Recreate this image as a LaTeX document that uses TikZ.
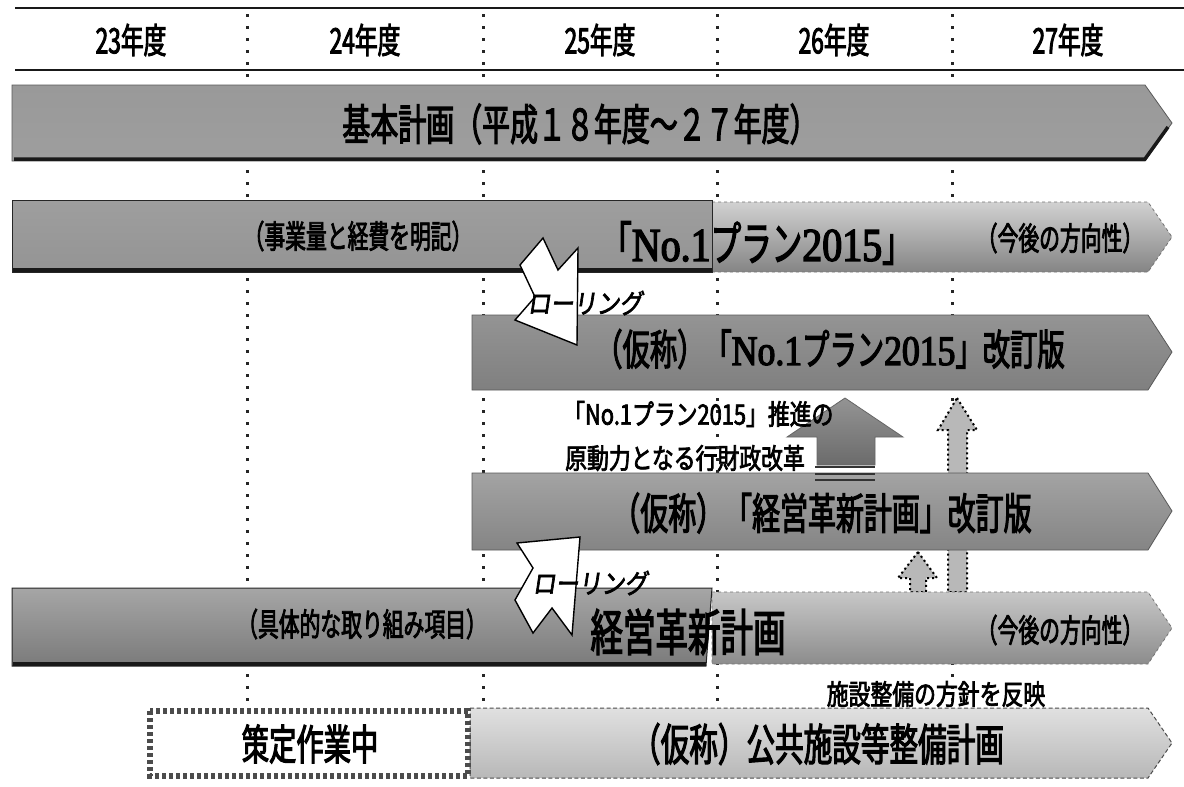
\documentclass[tikz,border=0pt]{standalone}
\usepackage{fontspec}
\newfontfamily\jp{Noto Sans CJK JP}[FakeStretch=0.65,FakeBold=2.5]
\newfontfamily\jpn{Noto Sans CJK JP}[FakeStretch=0.78,FakeBold=2.5]
\newfontfamily\jpc{Noto Sans CJK JP}[FakeStretch=0.65,FakeBold=2.5]
\newfontfamily\jps{Noto Sans CJK JP}[FakeStretch=0.85,FakeSlant=0.15,FakeBold=2.5]
\newfontfamily\ser{Liberation Serif}[FakeStretch=0.85,FakeBold=3]
\newcommand{\fsz}[1]{\fontsize{#1}{#1}\selectfont}
\tikzset{
  rule/.style={line width=2.8pt, black!90},
  vdots/.style={line width=3pt, black!85, dash pattern=on 3pt off 9pt},
  lbl/.style={inner sep=0pt, text=black},
  edge/.style={draw=black!65, line width=0.8pt},
  shadow/.style={draw=black!90, line width=3.5pt},
  rollarrow/.style={fill=white, draw=black, line width=1.4pt, line join=miter},
  dotarrow/.style={fill=black!28, draw=black, line width=2pt, dash pattern=on 2pt off 3pt},
}
\begin{document}
\begin{tikzpicture}[x=1pt,y=-1pt]
\useasboundingbox (0,0) rectangle (1184,787);
\fill[white] (0,0) rectangle (1184,787);

% vertical dotted year dividers
\foreach \x in {247,483,717,952} \draw[vdots] (\x,14) -- (\x,706);

% header
\draw[rule] (15,8) -- (1184,8);
\draw[rule] (15,70) -- (1184,70);
\node[lbl, font=\jp\fsz{35}] (y23) at (131,40) {23年度};
\node[lbl, font=\jp\fsz{35}] (y24) at (365,40) {24年度};
\node[lbl, font=\jp\fsz{35}] (y25) at (600,40) {25年度};
\node[lbl, font=\jp\fsz{35}] (y26) at (834,40) {26年度};
\node[lbl, font=\jp\fsz{35}] (y27) at (1068,40) {27年度};

% bar 1 : basic plan
\path[edge, top color=black!40, middle color=black!28, bottom color=black!38]
  (12,85) -- (1145,85) -- (1172,123) -- (1145,161) -- (12,161) -- cycle;
\draw[shadow] (14,159) -- (1145,159) -- (1168,127);
\node[lbl, font=\jp\fsz{43}] (kihon) at (580,124) {基本計画（平成１８年度～２７年度）};

% bar 2 : No.1 plan
\path[edge, draw=black!55, dashed, top color=black!18, bottom color=black!48]
  (712,202) -- (1148,202) -- (1172,237) -- (1148,272) -- (712,272) -- cycle;
\path[draw=black!85, line width=1pt, top color=black!38, middle color=black!70, bottom color=black!42]
  (12,200) rectangle (712,272);
\draw[shadow] (13,270) -- (712,270);
\node[lbl, font=\jp\fsz{32}] (jigyo) at (358,236) {（事業量と経費を明記）};
\node[lbl, font=\jp\fsz{32}] (kongo1) at (1060,238) {（今後の方向性）};
\node[lbl] (no1plan) at (757,243) {\fsz{47}{\jp 「}{\ser No.1}{\jp プラン}{\ser 2015}{\jp 」}};

% bar 3 : revised No.1 plan
\path[edge, top color=black!42, bottom color=black!50]
  (472,315) -- (1148,315) -- (1172,352) -- (1148,390) -- (472,390) -- cycle;
\node[lbl] (kaitei1) at (830,349) {\fsz{42}{\jp （仮称）「}{\ser No.1}{\jp プラン}{\ser 2015}{\jp 」改訂版}};

% rolling arrow 1
\path[rollarrow] (543,238) -- (558,270) -- (578,248) -- (577,345) -- (515,320) -- (535,297) -- (520,265) -- cycle;
\node[lbl, font=\jps\fsz{27}] (roll1) at (585,303) {ローリング};

% long dotted arrow (behind bar 4)
\path[dotarrow] (957,398) -- (977,430) -- (967,430) -- (967,592) -- (948,592) -- (948,430) -- (938,430) -- cycle;

% bar 4 : revised management innovation plan
\path[edge, top color=black!36, bottom color=black!48]
  (472,473) -- (1148,473) -- (1172,511) -- (1148,550) -- (472,550) -- cycle;
\node[lbl, font=\jp\fsz{43}] (kaitei2) at (822,513) {（仮称）「経営革新計画」改訂版};

% big up arrow
\path[draw=black!60, line width=0.8pt, top color=black!42, bottom color=black!58]
  (845,398) -- (903,437) -- (875,437) -- (875,465) -- (817,465) -- (817,437) -- (787,437) -- cycle;
\foreach \yy in {467,474,480} \draw[black!80, line width=1.5pt] (815,\yy) -- (875,\yy);

\node[lbl, font=\jpn\fsz{28}, anchor=west] (suishin) at (563,414) {「No.1プラン2015」推進の};
\node[lbl, font=\jpn\fsz{28}, anchor=west] (gendo) at (565,458) {原動力となる行財政改革};

% small dotted arrow
\path[dotarrow] (918,552) -- (937,578) -- (926,578) -- (926,592) -- (910,592) -- (910,578) -- (898,578) -- cycle;

% bar 5 : management innovation plan
\path[edge, draw=black!55, dashed, top color=black!22, bottom color=black!45]
  (712,592) -- (1148,592) -- (1172,628) -- (1148,664) -- (712,664) -- cycle;
\path[draw=black!85, line width=1pt, top color=black!35, middle color=black!40, bottom color=black!52]
  (12,588) -- (712,588) -- (706,666) -- (12,666) -- cycle;
\draw[shadow] (13,664) -- (706,664);
\node[lbl, font=\jp\fsz{32}] (gutai) at (362,624) {（具体的な取り組み項目）};
\node[lbl, font=\jp\fsz{32}] (kongo2) at (1060,630) {（今後の方向性）};
\node[lbl, font=\jpc\fsz{50}] (keiei) at (688,632) {経営革新計画};

% rolling arrow 2
\path[rollarrow] (517,543) -- (580,537) -- (572,635) -- (552,608) -- (533,633) -- (515,600) -- (533,568) -- cycle;
\node[lbl, font=\jps\fsz{27}] (roll2) at (590,583) {ローリング};

\node[lbl, font=\jpn\fsz{28}] (hanei) at (936,694) {施設整備の方針を反映};

% bar 6 : public facilities plan
\path[draw=black!70, line width=1pt, dash pattern=on 4pt off 2.5pt, top color=black!12, bottom color=black!28]
  (470,708) -- (1148,708) -- (1172,743) -- (1148,778) -- (470,778) -- cycle;
\path[fill=white, draw=black!70, line width=6pt, dash pattern=on 4pt off 3pt]
  (150,711) rectangle (468,776);
\node[lbl, font=\jp\fsz{42}] (sakutei) at (310,744) {策定作業中};
\node[lbl, font=\jp\fsz{44}] (kokyo) at (818,744) {（仮称）公共施設等整備計画};
\end{tikzpicture}
\end{document}
